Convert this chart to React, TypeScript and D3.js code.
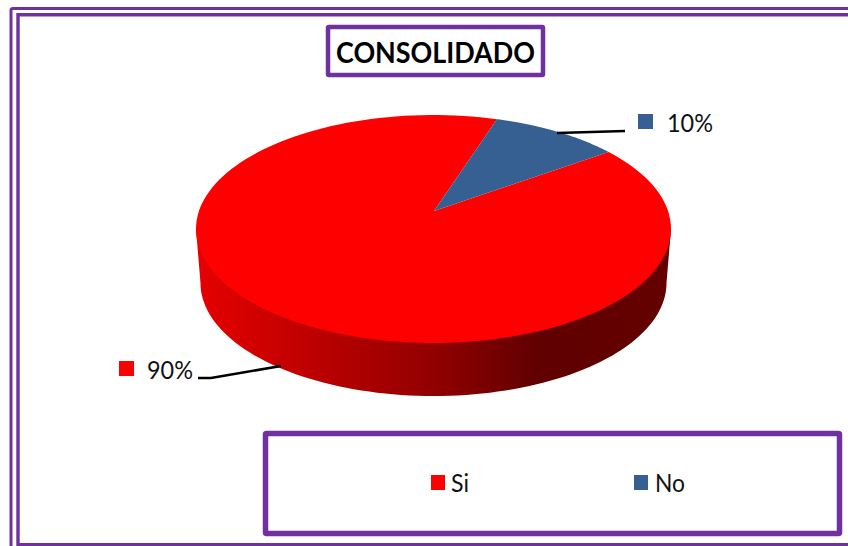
import React from "react";
import * as d3 from "d3";

const categories = ["Si", "No"];
const values = [90, 10];
const colors = ["#ff0000", "#376092"];

const W = 848, H = 546;
const PURPLE = "#7030a0";
const FONT = "Lato, Carlito, sans-serif";
const deg = (d: number) => (d * Math.PI) / 180;

const cx = 433.5, cy = 229, rx = 237.5, ry = 114;
const apex: [number, number] = [434, 211];
const botCy = 283, botRx = 233, botRy = 113;

// pie angles -> rim angle on screen (foreshortened by the 3D perspective)
const pieGen = d3.pie<number>().sort(null).startAngle(deg(51.5)).endAngle(deg(411.5));
const arcs = pieGen(values);
const warp = d3.scaleLinear()
  .domain([deg(51.5), deg(375.5), deg(411.5)])
  .range([deg(47.5), deg(375.5), deg(407.5)]);

const rim = (a: number): [number, number] => [cx + rx * Math.sin(warp(a)), cy - ry * Math.cos(warp(a))];
const line = d3.line();

function slicePath(a0: number, a1: number) {
  const n = 160;
  const pts: [number, number][] = [apex];
  for (let i = 0; i <= n; i++) pts.push(rim(a0 + ((a1 - a0) * i) / n));
  return line(pts) + "Z";
}

function sidePath() {
  const pts: [number, number][] = [];
  pts.push([cx + rx, cy]);
  d3.range(0, 181, 2).forEach((t) => {
    const a = deg(t);
    pts.push([cx + botRx * Math.cos(a), botCy + botRy * Math.sin(a)]);
  });
  pts.push([cx - rx, cy]);
  return line(pts) + "Z";
}

const gradStops = [
  [0, "#e60000"],
  [0.5, "#920000"],
  [0.72, "#600000"],
  [1, "#640000"],
];

const leaderNo: [number, number][] = [[557, 133], [625, 131]];
const leaderSi: [number, number][] = [[198, 378], [211, 378], [281, 366]];

export default function App() {
  const pct = d3.format(".0%");
  const total = d3.sum(values);
  return (
    <svg width={W} height={H} style={{ position: "absolute", left: 0, top: 0, background: "#fff" }}>
      <defs>
        <linearGradient id="side" gradientUnits="userSpaceOnUse" x1={196} x2={671} y1={0} y2={0}>
          {gradStops.map(([o, c]) => (
            <stop key={o as number} offset={o as number} stopColor={c as string} />
          ))}
        </linearGradient>
      </defs>

      <path d="M11 560V10Q11 8.5 13 8.5H860" fill="none" stroke={PURPLE} strokeWidth={3} />
      <path d="M18 560V14.8H860" fill="none" stroke={PURPLE} strokeWidth={3.4} />
      <path d="M18 544.5H860" fill="none" stroke={PURPLE} strokeWidth={3} />

      <rect x={328} y={27} width={215} height={48} fill="#fff" stroke={PURPLE} strokeWidth={4.5} rx={1} />
      <text x={336} y={63} fontFamily={FONT} fontWeight={700} fontSize={29} textLength={199} lengthAdjust="spacingAndGlyphs" fill="#000">
        CONSOLIDADO
      </text>

      <path d={sidePath()} fill="url(#side)" />
      {arcs.map((a, i) => (
        <path key={categories[i]} d={slicePath(a.startAngle, a.endAngle)} fill={colors[i]} />
      ))}

      <path d={line(leaderNo)!} fill="none" stroke="#000" strokeWidth={2.6} />
      <path d={line(leaderSi)!} fill="none" stroke="#000" strokeWidth={2.6} />

      <rect x={638} y={114} width={15} height={15} fill={colors[1]} />
      <text x={667} y={132} fontFamily={FONT} fontSize={24.5} textLength={46} lengthAdjust="spacingAndGlyphs" fill="#111">{pct(values[1] / total)}</text>
      <rect x={119} y={361} width={15} height={15} fill={colors[0]} />
      <text x={147} y={379} fontFamily={FONT} fontSize={24.5} textLength={46} lengthAdjust="spacingAndGlyphs" fill="#111">{pct(values[0] / total)}</text>

      <rect x={265.5} y={433.5} width={574} height={100} fill="#fff" stroke={PURPLE} strokeWidth={5.5} rx={1} />
      <rect x={431} y={475} width={14} height={15} fill={colors[0]} />
      <text x={451} y={492} fontFamily={FONT} fontSize={24.5} textLength={18} lengthAdjust="spacingAndGlyphs" fill="#111">{categories[0]}</text>
      <rect x={634} y={475} width={14} height={15} fill={colors[1]} />
      <text x={655} y={492} fontFamily={FONT} fontSize={24.5} textLength={30} lengthAdjust="spacingAndGlyphs" fill="#111">{categories[1]}</text>
    </svg>
  );
}
